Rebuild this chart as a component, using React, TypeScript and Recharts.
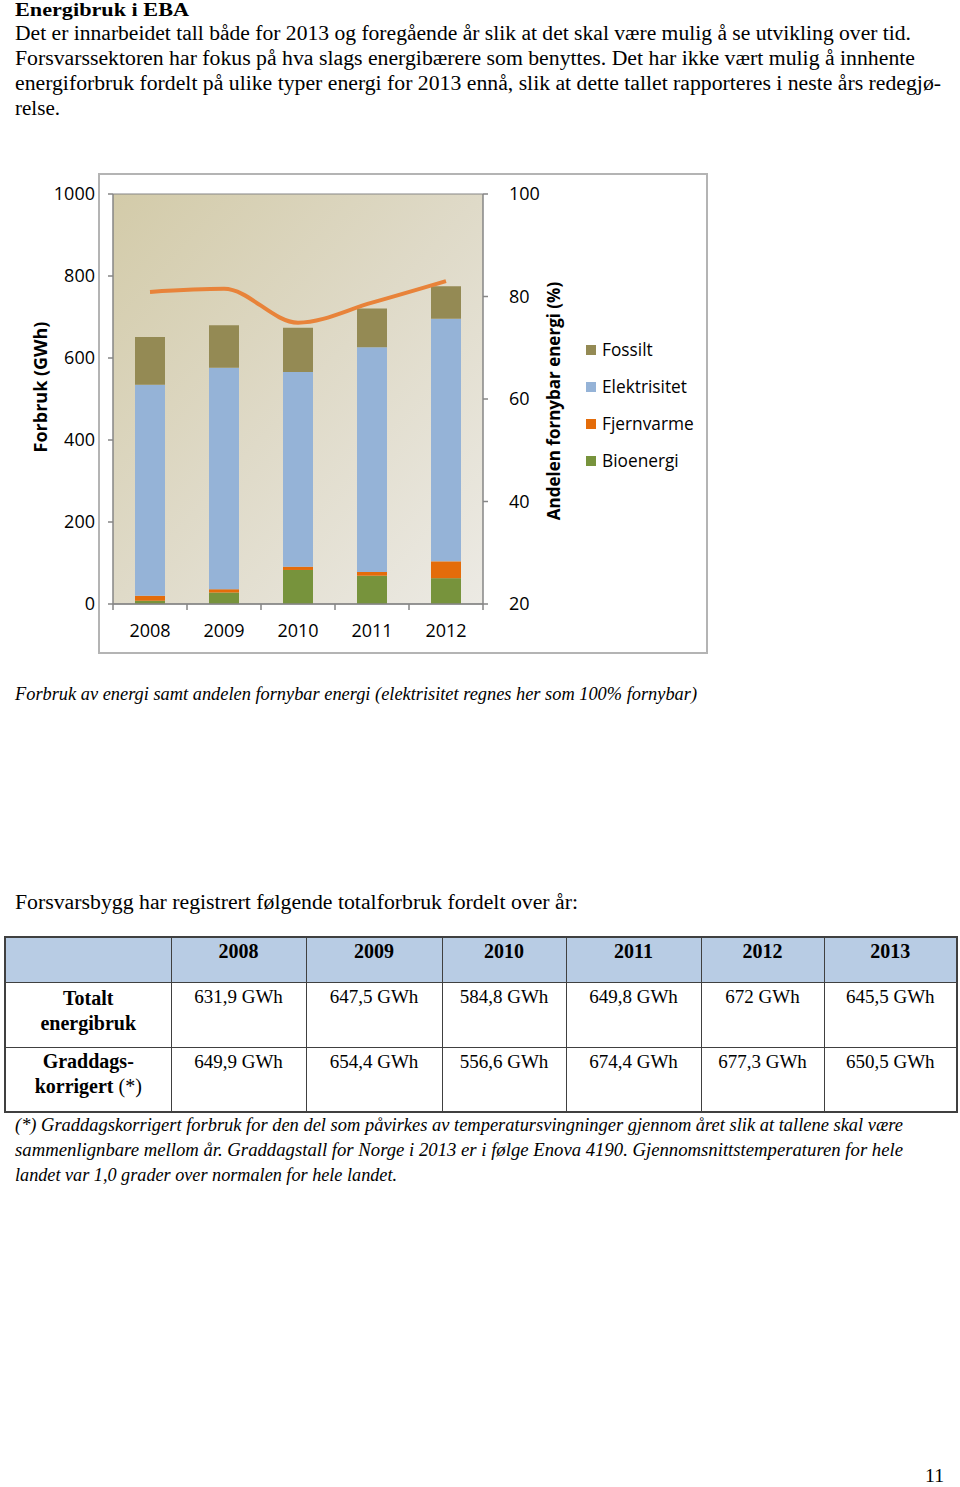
import React from 'react';
import { ComposedChart, Bar, Line, XAxis, YAxis, CartesianGrid, Legend } from 'recharts';

// ---- chart data ----
const years = ['2008', '2009', '2010', '2011', '2012'];
const bioenergi = [8, 28, 83, 69, 63];
const fjernvarme = [12, 8, 8, 9, 41];
const elektrisitet = [515, 540, 475, 548, 592];
const fossilt = [116, 104, 108, 95, 79];
const andelFornybar = [80.9, 81.5, 74.9, 78.8, 83.0];
const leftTicks = [0, 200, 400, 600, 800, 1000];
const rightTicks = [20, 40, 60, 80, 100];

// ---- table data ----
const tableYears = ['2008', '2009', '2010', '2011', '2012', '2013'];
const totaltRow = ['631,9 GWh', '647,5 GWh', '584,8 GWh', '649,8 GWh', '672 GWh', '645,5 GWh'];
const graddagRow = ['649,9 GWh', '654,4 GWh', '556,6 GWh', '674,4 GWh', '677,3 GWh', '650,5 GWh'];

const SERIES = [
  { key: 'bio', name: 'Bioenergi', color: '#77933C' },
  { key: 'fjern', name: 'Fjernvarme', color: '#E46C0A' },
  { key: 'el', name: 'Elektrisitet', color: '#95B3D7' },
  { key: 'fossil', name: 'Fossilt', color: '#948A54' },
];
const LINE_COLOR = '#E8833A';
const AXIS = '#868686';
const CHART_FONT = "'Open Sans', sans-serif";
const SERIF = "'Liberation Serif', 'DejaVu Serif', serif";

const data = years.map((y, i) => ({
  year: y,
  bio: bioenergi[i],
  fjern: fjernvarme[i],
  el: elektrisitet[i],
  fossil: fossilt[i],
  andel: andelFornybar[i],
}));

const XTick = (props: any) => {
  const { x, y, payload, index, visibleTicksCount, width } = props;
  const half = width && visibleTicksCount ? width / visibleTicksCount / 2 : 37;
  const axisY = y - 20;
  return (
    <g>
      <line x1={x - half} x2={x - half} y1={axisY} y2={axisY + 6} stroke={AXIS} strokeWidth={1.5} />
      {index === visibleTicksCount - 1 && (
        <line x1={x + half} x2={x + half} y1={axisY} y2={axisY + 6} stroke={AXIS} strokeWidth={1.5} />
      )}
      <text x={x} y={y} dy="0.71em" textAnchor="middle" fontFamily={CHART_FONT} fontSize={18} fill="#000">
        {payload.value}
      </text>
    </g>
  );
};

const LeftTitle = (props: any) => {
  const vb = props.viewBox || { x: 0, y: 0, width: 0, height: 0 };
  const cx = vb.x + 20;
  const cy = vb.y + vb.height / 2 - 12;
  return (
    <text x={cx} y={cy} transform={`rotate(-90, ${cx}, ${cy})`} textAnchor="middle" dominantBaseline="central"
      fontFamily={CHART_FONT} fontSize={18} fontWeight="bold" fill="#000">
      Forbruk  (GWh)
    </text>
  );
};

const RightTitle = (props: any) => {
  const vb = props.viewBox || { x: 0, y: 0, width: 0, height: 0 };
  const cx = vb.x + 70;
  const cy = vb.y + vb.height / 2 + 2;
  return (
    <text x={cx} y={cy} transform={`rotate(-90, ${cx}, ${cy})`} textAnchor="middle" dominantBaseline="central"
      fontFamily={CHART_FONT} fontSize={17} fontWeight="bold" fill="#000">
      Andelen fornybar energi (%)
    </text>
  );
};

const LegendContent = () => (
  <div style={{ fontFamily: CHART_FONT, fontSize: 17.3, color: '#000' }}>
    {[...SERIES].reverse().map((s) => (
      <div key={s.key} style={{ height: 37, display: 'flex', alignItems: 'center' }}>
        <span style={{ display: 'inline-block', width: 10, height: 10, background: s.color, marginRight: 6 }} />
        <span>{s.name}</span>
      </div>
    ))}
  </div>
);

const PageText = () => {
  const t = (x: number, y: number, w: number, size: number, txt: string, opts: any = {}) => (
    <text x={x} y={y} textLength={w} lengthAdjust="spacingAndGlyphs" fontFamily={SERIF} fontSize={size}
      fontWeight={opts.bold ? 'bold' : 'normal'} fontStyle={opts.italic ? 'italic' : 'normal'} fill="#000">
      {txt}
    </text>
  );
  return (
    <svg width={960} height={1487} style={{ position: 'absolute', left: 0, top: 0, pointerEvents: 'none' }}>
      {t(15, 16, 174, 19.5, 'Energibruk i EBA', { bold: true })}
      {t(15, 40, 896, 20, 'Det er innarbeidet tall både for 2013 og foregående år slik at det skal være mulig å se utvikling over tid.')}
      {t(15, 65, 900, 20, 'Forsvarssektoren har fokus på hva slags energibærere som benyttes. Det har ikke vært mulig å innhente')}
      {t(15, 90, 926, 20, 'energiforbruk fordelt på ulike typer energi for 2013 ennå, slik at dette tallet rapporteres i neste års redegjø-')}
      {t(15, 115, 45, 20, 'relse.')}
      {t(15, 700, 682, 19, 'Forbruk av energi samt andelen fornybar energi (elektrisitet regnes her som 100% fornybar)', { italic: true })}
      {t(15, 909, 563, 20, 'Forsvarsbygg har registrert følgende totalforbruk fordelt over år:')}
      {t(15, 1131, 888, 19, '(*) Graddagskorrigert forbruk for den del som påvirkes av temperatursvingninger gjennom året slik at tallene skal være', { italic: true })}
      {t(15, 1156, 888, 19, 'sammenlignbare mellom år. Graddagstall for Norge i 2013 er i følge Enova 4190. Gjennomsnittstemperaturen for hele', { italic: true })}
      {t(15, 1181, 382, 19, 'landet var 1,0 grader over normalen for hele landet.', { italic: true })}
      {t(925, 1482, 19, 18, '11')}
    </svg>
  );
};

const colW = [166, 135, 136, 124, 135, 123, 133];
const cellBorder = '1px solid #404040';

const DataTable = () => (
  <table style={{ position: 'absolute', left: 4, top: 936, width: 952, borderCollapse: 'collapse', tableLayout: 'fixed',
    fontFamily: SERIF, fontSize: 19, border: '2px solid #404040' }}>
    <colgroup>
      {colW.map((w, i) => <col key={i} style={{ width: w }} />)}
    </colgroup>
    <tbody>
      <tr style={{ height: 45, background: '#B8CCE4' }}>
        <td style={{ border: cellBorder }} />
        {tableYears.map((y) => (
          <td key={y} style={{ border: cellBorder, textAlign: 'center', verticalAlign: 'top', fontWeight: 'bold', fontSize: 20, lineHeight: '25px', paddingTop: 1 }}>{y}</td>
        ))}
      </tr>
      <tr style={{ height: 65 }}>
        <td style={{ border: cellBorder, textAlign: 'center', verticalAlign: 'top', fontWeight: 'bold', fontSize: 20, lineHeight: '25px', paddingTop: 3 }}>
          Totalt<br />energibruk
        </td>
        {totaltRow.map((v, i) => (
          <td key={i} style={{ border: cellBorder, textAlign: 'center', verticalAlign: 'top', lineHeight: '25px', paddingTop: 1 }}>{v}</td>
        ))}
      </tr>
      <tr style={{ height: 65 }}>
        <td style={{ border: cellBorder, textAlign: 'center', verticalAlign: 'top', fontWeight: 'bold', fontSize: 20, lineHeight: '25px', paddingTop: 1 }}>
          Graddags-<br />korrigert <span style={{ fontWeight: 'normal' }}>(*)</span>
        </td>
        {graddagRow.map((v, i) => (
          <td key={i} style={{ border: cellBorder, textAlign: 'center', verticalAlign: 'top', lineHeight: '25px', paddingTop: 1 }}>{v}</td>
        ))}
      </tr>
    </tbody>
  </table>
);

export default function App() {
  return (
    <div style={{ position: 'absolute', left: 0, top: 0, width: 960, height: 1487, overflow: 'hidden', background: '#fff' }}>
      <PageText />
      <div style={{ position: 'absolute', left: 98, top: 173, width: 606, height: 477, border: '2px solid #b4b4b4' }} />
      <div style={{ position: 'absolute', left: 20, top: 173 }}>
        <ComposedChart width={690} height={479} data={data} margin={{ top: 21, right: 127, bottom: 18, left: 0 }} barCategoryGap={0}>
          <defs>
            <linearGradient id="plotBg" x1="0" y1="0" x2="1" y2="1">
              <stop offset="0%" stopColor="#D3CBA9" />
              <stop offset="50%" stopColor="#DFDAC8" />
              <stop offset="100%" stopColor="#ECEAE4" />
            </linearGradient>
          </defs>
          <CartesianGrid vertical={false} stroke={AXIS} strokeWidth={1.2} fill="url(#plotBg)" fillOpacity={1} />
          <XAxis dataKey="year" tickLine={false} tickSize={5} tickMargin={15} height={30}
            axisLine={{ stroke: AXIS, strokeWidth: 1.5 }} tick={<XTick />} interval={0} />
          <YAxis yAxisId="left" domain={[0, 1000]} ticks={leftTicks} width={93} tickSize={5} tickMargin={13}
            axisLine={{ stroke: AXIS, strokeWidth: 1.5 }} tickLine={{ stroke: AXIS, strokeWidth: 1.5 }}
            tick={{ fontFamily: CHART_FONT, fontSize: 18, fill: '#000' }} label={{ content: (p: any) => <LeftTitle viewBox={p.viewBox} /> }}
            allowDataOverflow />
          <YAxis yAxisId="right" orientation="right" domain={[20, 100]} ticks={rightTicks} width={100} tickSize={5} tickMargin={21}
            axisLine={{ stroke: AXIS, strokeWidth: 1.5 }} tickLine={{ stroke: AXIS, strokeWidth: 1.5 }}
            tick={{ fontFamily: CHART_FONT, fontSize: 18, fill: '#000', textAnchor: 'start' }}
            label={{ content: (p: any) => <RightTitle viewBox={p.viewBox} /> }} allowDataOverflow />
          {SERIES.map((s) => (
            <Bar key={s.key} yAxisId="left" dataKey={s.key} name={s.name} stackId="a" fill={s.color} barSize={30} isAnimationActive={false} />
          ))}
          <Line yAxisId="right" dataKey="andel" type="monotone" stroke={LINE_COLOR} strokeWidth={4} dot={false}
            activeDot={false} isAnimationActive={false} legendType="none" />
          <Legend layout="vertical" align="center" verticalAlign="middle" content={<LegendContent />}
            wrapperStyle={{ left: 566, top: 158, width: 124 }} />
        </ComposedChart>
      </div>
      <DataTable />
    </div>
  );
}
